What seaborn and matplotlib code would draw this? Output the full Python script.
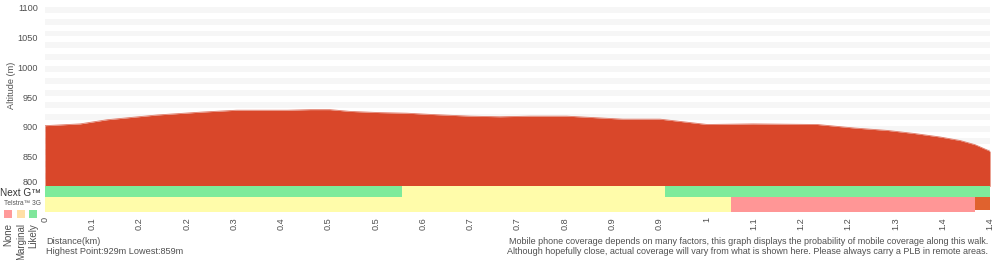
import matplotlib
matplotlib.use("Agg")
import matplotlib.pyplot as plt
import matplotlib.transforms as mtransforms
import seaborn as sns
import numpy as np

# ---- data ----
distance_km = [0.0, 0.052, 0.092, 0.166, 0.234, 0.284, 0.359, 0.393, 0.422, 0.452,
               0.496, 0.536, 0.570, 0.630, 0.674, 0.719, 0.773, 0.856, 0.911, 0.981,
               1.049, 1.144, 1.200, 1.248, 1.287, 1.326, 1.356, 1.378, 1.400]
altitude_m = [902, 905, 912, 920, 925, 928, 928, 929, 929, 926,
              924, 923, 921, 918, 917, 918, 918, 913, 913, 904,
              905, 904, 898, 894, 889, 883, 877, 870, 859]

nextg_start = [0.0, 0.529, 0.918]
nextg_end = [0.529, 0.918, 1.4]
nextg_level = ["Likely", "Marginal", "Likely"]

telstra3g_start = [0.0, 1.016, 1.378]
telstra3g_end = [1.016, 1.378, 1.4]
telstra3g_level = ["Marginal", "None", "Unknown"]

xtick_labels = ["0", "0.1", "0.2", "0.2", "0.3", "0.4", "0.5", "0.5", "0.6", "0.7", "0.7",
                "0.8", "0.9", "0.9", "1", "1.1", "1.2", "1.2", "1.3", "1.4", "1.4"]
yticks = [800, 850, 900, 950, 1000, 1050, 1100]
highest, lowest = 929, 859

# ---- style ----
sns.set_theme(style="white")
plt.rcParams["font.family"] = ["Liberation Sans", "DejaVu Sans"]
TXT = "#505050"
RED = "#d9472a"
band_colors = {"Likely": "#7eeb9b", "Marginal": "#fffcaa", "None": "#ff9696", "Unknown": "#e0622e"}
legend_colors = {"None": "#ff9a9a", "Marginal": "#ffdfa6", "Likely": "#7fe69b"}

fig = plt.figure(figsize=(10, 2.6), dpi=100)
ax = fig.add_axes([45 / 1000, 1 - 211.5 / 260, 945 / 1000, 209.5 / 260])
ax.set_xlim(0, 1.4)
ax.set_ylim(757.7, 1110)

# grid stripes
for y0 in range(792, 1120, 20):
    ax.axhspan(y0, y0 + 10, color="#f6f6f6", lw=0, zorder=0)

# elevation profile
ax.fill_between(distance_km, altitude_m, 800, color=RED, lw=0, zorder=2)
sns.lineplot(x=distance_km, y=altitude_m, ax=ax, color="#e07a68", lw=0.6, zorder=3)

# coverage bands
for s, e, lv in zip(nextg_start, nextg_end, nextg_level):
    ax.barh(791.2, e - s, left=s, height=17.6, color=band_colors[lv], lw=0, zorder=2)
for s, e, lv in zip(telstra3g_start, telstra3g_end, telstra3g_level):
    h = 23.8 if lv != "Unknown" else 20.5
    c = 769.6 if lv != "Unknown" else 771.3
    ax.barh(c, e - s, left=s, height=h, color=band_colors[lv], lw=0, zorder=2)

for sp in ax.spines.values():
    sp.set_visible(False)

# y ticks: all but the lowest as normal tick labels, lowest nudged up like the original
ax.set_yticks(yticks[1:])
ax.set_yticklabels([str(v) for v in yticks[1:]], fontsize=6.6, color=TXT)
ax.tick_params(axis="y", length=0, pad=5)
nudge = mtransforms.ScaledTranslation(-5 / 72, 3 / 72, fig.dpi_scale_trans)
ax.text(0, yticks[0], str(yticks[0]), transform=ax.get_yaxis_transform() + nudge,
        ha="right", va="center", fontsize=6.6, color=TXT)

ax.set_xticks([i * 1.4 / 20 for i in range(21)])
ax.set_xticklabels(xtick_labels, rotation=90, fontsize=6.6, color=TXT, va="top")
ax.tick_params(axis="x", length=0, pad=4)
ax.set_xlabel("")
ax.set_ylabel("")

fig.text(12 / 1000, 1 - 85 / 260, "Altitude (m)", rotation=90, ha="center", va="center",
         fontsize=6.6, color=TXT)

fig.text(0 / 1000, 1 - 192.5 / 260, "Next G\u2122", ha="left", va="center", fontsize=7.2, color="#333333")
fig.text(4 / 1000, 1 - 203.5 / 260, "Telstra\u2122 3G", ha="left", va="center", fontsize=4.8, color="#555555")

legend_order = ["None", "Marginal", "Likely"]
legend_x = [4, 17, 29]
for name, lx in zip(legend_order, legend_x):
    fig.patches.append(plt.Rectangle((lx / 1000, 1 - 218 / 260), 8 / 1000, 8 / 260,
                                     transform=fig.transFigure, color=legend_colors[name], lw=0))
    fig.text((lx + 4) / 1000, 1 - 223 / 260, name, rotation=90, ha="center", va="top",
             fontsize=7, color=TXT)

fig.text(46 / 1000, 1 - 242 / 260, "Distance(km)", ha="left", va="center", fontsize=6.6, color=TXT)
fig.text(46 / 1000, 1 - 252 / 260, f"Highest Point:{highest}m Lowest:{lowest}m",
         ha="left", va="center", fontsize=6.6, color=TXT)
fig.text(988 / 1000, 1 - 242 / 260,
         "Mobile phone coverage depends on many factors, this graph displays the probability of mobile coverage along this walk.",
         ha="right", va="center", fontsize=6.5, color=TXT)
fig.text(988 / 1000, 1 - 252 / 260,
         "Although hopefully close, actual coverage will vary from what is shown here. Please always carry a PLB in remote areas.",
         ha="right", va="center", fontsize=6.5, color=TXT)

fig.savefig("out.png", dpi=100)
